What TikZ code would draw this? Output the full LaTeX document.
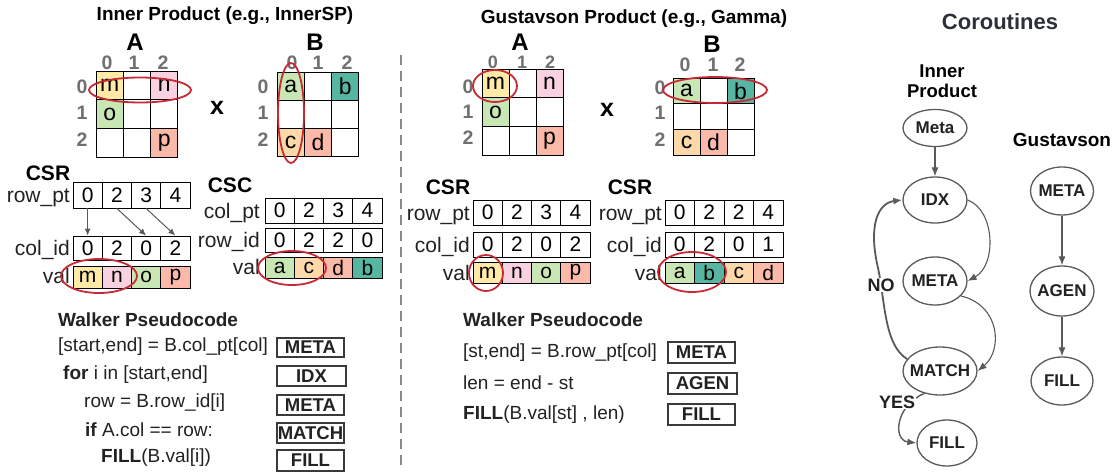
\documentclass[tikz,border=0pt]{standalone}
\usepackage{fontspec}
\setmainfont{Liberation Sans}
\usetikzlibrary{shapes.geometric, arrows.meta}

\definecolor{cYel}{HTML}{FFEAA7}
\definecolor{cPink}{HTML}{F9D2E1}
\definecolor{cGrn}{HTML}{C9E7B5}
\definecolor{cSal}{HTML}{FBB9A9}
\definecolor{cOra}{HTML}{FDD8A8}
\definecolor{cTeal}{HTML}{56B6A2}
\definecolor{hlred}{HTML}{C72A35}
\definecolor{idxgray}{HTML}{707070}
\definecolor{congray}{HTML}{5A5A5A}
\definecolor{boxgray}{HTML}{3A3A3A}
\definecolor{codeblack}{HTML}{222222}
\definecolor{divgray}{HTML}{8A8A8A}
\definecolor{slate}{HTML}{2B303A}

\newcommand\fsz[1]{\fontsize{#1}{#1}\selectfont}

% sparse matrix drawn as a grid of cells: name, x0, y0, cell w, cell h, list r/c/text/fill
\newcommand\spmat[6]{%
  \foreach \r/\c/\t/\f in {#6}{%
    \node[mcell, fill=\f, minimum width=#4pt, minimum height=#5pt] (#1-\r-\c)
      at ({#2+(\c+0.5)*#4}, {#3+(\r+0.5)*#5}) {\t};
  }}
% one row of a compressed array: name, x0, y centre, cell w, cell h, list text/fill
\newcommand\sparr[6]{%
  \foreach \t/\f [count=\i from 0] in {#6}{%
    \node[acell, fill=\f, minimum width=#4pt, minimum height=#5pt] (#1-\i)
      at ({#2+(\i+0.5)*#4}, #3) {\t};
  }}

\tikzset{
  mcell/.style={draw=black, line width=0.9pt, inner sep=0pt, font=\fsz{23}, text=black},
  acell/.style={draw=black, line width=0.9pt, inner sep=0pt, font=\fsz{21}, text=black},
  rowlab/.style={anchor=base east, inner sep=0pt, font=\fsz{21}, text=codeblack},
  idx/.style={font=\bfseries\fsz{19.5}, text=idxgray, inner sep=0pt},
  mlab/.style={font=\bfseries\fsz{24}, inner sep=0pt},
  ttl/.style={font=\bfseries\fsz{19}, inner sep=0pt, text=black},
  fmt/.style={font=\bfseries\fsz{21}, inner sep=0pt, text=black},
  hl/.style={draw=hlred, line width=1.8pt},
  ptr/.style={draw=congray, line width=1pt, -{Latex[length=7pt,width=6pt]}},
  code/.style={anchor=west, inner sep=0pt, font=\fsz{19}, text=codeblack},
  pbox/.style={draw=boxgray, line width=1.2pt, inner sep=0pt, font=\bfseries\fsz{18.5}, text=codeblack},
  co/.style={ellipse, draw=congray, line width=1.3pt, inner sep=0pt},
  colab/.style={font=\bfseries\fsz{17}, text=codeblack, inner sep=0pt},
  con/.style={draw=congray, line width=1.1pt, -{Latex[length=9pt,width=7pt]}},
}

\begin{document}
\begin{tikzpicture}[x=1pt, y=-1pt]
\useasboundingbox[fill=white] (0,0) rectangle (1117,474);

% ---------------- Inner product ----------------
\node[ttl] (ttlInner) at (225,16) {Inner Product (e.g., InnerSP)};
\node[mlab] (labLA) at (135,42) {A};
\node[mlab] (labLB) at (315,42) {B};
\foreach \v/\x in {0/107,1/134,2/163} \node[idx] (lac\v) at (\x,63) {\v};
\foreach \v/\y in {0/87,1/113,2/140} \node[idx] (lar\v) at (82,\y) {\v};
\foreach \v/\x in {0/292,1/318,2/347} \node[idx] (lbc\v) at (\x,63) {\v};
\foreach \v/\y in {0/87,1/113,2/140} \node[idx] (lbr\v) at (263,\y) {\v};

\spmat{LA}{96}{71}{27.3}{28.7}{0/0/m/cYel, 0/1//white, 0/2/n/cPink,
  1/0/o/cGrn, 1/1//white, 1/2//white, 2/0//white, 2/1//white, 2/2/p/cSal}
\spmat{LB}{277}{72}{27.3}{28.3}{0/0/a/cGrn, 0/1//white, 0/2/b/cTeal,
  1/0//white, 1/1//white, 1/2//white, 2/0/c/cOra, 2/1/d/cSal, 2/2//white}
\node[font=\bfseries\fsz{25}, inner sep=0pt] (timesL) at (217,108) {x};

\draw[hl] (140,90) ellipse [x radius=51pt, y radius=12.5pt];
\draw[hl] (291,113) ellipse [x radius=13pt, y radius=50pt];

% CSR of A
\node[fmt] (csrL) at (48,173) {CSR};
\sparr{Lrp}{73}{195}{29.25}{26}{0/white,2/white,3/white,4/white}
\sparr{Lci}{73}{248}{29.25}{24}{0/white,2/white,0/white,2/white}
\sparr{Lval}{73}{277}{29.25}{22}{m/cYel,n/cPink,o/cGrn,p/cSal}
\node[rowlab] (Lrplab) at (70,202.5) {row\_pt};
\node[rowlab] (Lcilab) at (70,255.5) {col\_id};
\node[rowlab] (Lvallab) at (70,283) {val};
\draw[ptr] (Lrp-0.south) -- (Lci-0.north);
\draw[ptr] (Lrp-1.south) -- (Lci-2.north);
\draw[ptr] (Lrp-2.south) -- (Lci-3.north);
\draw[hl] (99,276) ellipse [x radius=38pt, y radius=17pt];

% CSC of B
\node[fmt] (cscL) at (230,185) {CSC};
\sparr{Lcp}{265}{210.5}{29.25}{25}{0/white,2/white,3/white,4/white}
\sparr{Lri}{265}{240}{29.25}{24}{0/white,2/white,2/white,0/white}
\sparr{Lcv}{265}{267.5}{29.25}{21}{a/cGrn,c/cOra,d/cSal,b/cTeal}
\node[rowlab] (Lcplab) at (260,218) {col\_pt};
\node[rowlab] (Lrilab) at (260,247.5) {row\_id};
\node[rowlab] (Lcvlab) at (260,274) {val};
\draw[hl] (292,268) ellipse [x radius=34pt, y radius=17pt];

% walker pseudocode (inner product)
\node[code, font=\bfseries\fsz{19}] (wpL) at (58,320) {Walker Pseudocode};
\node[code] (cL1) at (58,347) {[start,end] = B.col\_pt[col]};
\node[code] (cL2) at (63,375) {\textbf{for} i in [start,end]};
\node[code] (cL3) at (84,403) {row = B.row\_id[i]};
\node[code] (cL4) at (85,430) {\textbf{if} A.col == row:};
\node[code] (cL5) at (101,458) {\textbf{FILL}(B.val[i])};
\node[pbox, minimum width=67pt, minimum height=19pt] (bL1) at (310.5,347.5) {META};
\node[pbox, minimum width=69pt, minimum height=20pt] (bL2) at (311.5,376) {IDX};
\node[pbox, minimum width=67pt, minimum height=20pt] (bL3) at (310.5,405) {META};
\node[pbox, minimum width=67pt, minimum height=20pt] (bL4) at (310.5,433) {MATCH};
\node[pbox, minimum width=67pt, minimum height=21pt] (bL5) at (310.5,460.5) {FILL};

% divider
\draw[draw=divgray, line width=1.8pt, dash pattern=on 10pt off 6pt] (401,55) -- (401,467);

% ---------------- Gustavson product ----------------
\node[ttl] (ttlGust) at (634,19) {Gustavson Product (e.g., Gamma)};
\node[mlab] (labMA) at (520,42.5) {A};
\node[mlab] (labMB) at (712,44) {B};
\foreach \v/\x in {0/493,1/522,2/550} \node[idx, font=\bfseries\fsz{18}] (mac\v) at (\x,62) {\v};
\foreach \v/\y in {0/87,1/112,2/138} \node[idx] (mar\v) at (468,\y) {\v};
\foreach \v/\x in {0/685,1/713,2/740} \node[idx] (mbc\v) at (\x,65) {\v};
\foreach \v/\y in {0/88,1/113,2/140} \node[idx] (mbr\v) at (660,\y) {\v};

\spmat{MA}{482}{69}{27}{28.7}{0/0/m/cYel, 0/1//white, 0/2/n/cPink,
  1/0/o/cGrn, 1/1//white, 1/2//white, 2/0//white, 2/1//white, 2/2/p/cSal}
\spmat{MB}{673}{78}{27}{25.7}{0/0/a/cGrn, 0/1//white, 0/2/b/cTeal,
  1/0//white, 1/1//white, 1/2//white, 2/0/c/cOra, 2/1/d/cSal, 2/2//white}
\node[font=\bfseries\fsz{25}, inner sep=0pt] (timesM) at (607,110) {x};

\draw[hl] (495,86) ellipse [x radius=22pt, y radius=16pt];
\draw[hl] (715,90) ellipse [x radius=52pt, y radius=13pt];

% CSR of A
\node[fmt] (csrM1) at (448,187) {CSR};
\sparr{Mrp}{473}{212.5}{29.25}{25}{0/white,2/white,3/white,4/white}
\sparr{Mci}{473}{244.5}{29.25}{25}{0/white,2/white,0/white,2/white}
\sparr{Mval}{473}{272.5}{29.25}{21}{m/cYel,n/cPink,o/cGrn,p/cSal}
\node[rowlab] (Mrplab) at (470,220) {row\_pt};
\node[rowlab] (Mcilab) at (470,252) {col\_id};
\node[rowlab] (Mvallab) at (470,280) {val};
\draw[hl] (486,273) ellipse [x radius=17pt, y radius=18pt];

% CSR of B
\node[fmt] (csrM2) at (630,187) {CSR};
\sparr{Nrp}{665}{212.5}{29.5}{25}{0/white,2/white,2/white,4/white}
\sparr{Nci}{665}{244.5}{29.5}{25}{0/white,2/white,0/white,1/white}
\sparr{Nval}{665}{272.5}{29.5}{21}{a/cGrn,b/cTeal,c/cOra,d/cSal}
\node[rowlab] (Nrplab) at (662,220) {row\_pt};
\node[rowlab] (Ncilab) at (662,252) {col\_id};
\node[rowlab] (Nvallab) at (662,280) {val};
\draw[hl] (692,272) ellipse [x radius=34pt, y radius=20pt];

% walker pseudocode (Gustavson)
\node[code, font=\bfseries\fsz{19}] (wpM) at (463,320) {Walker Pseudocode};
\node[code] (cM1) at (463,353) {[st,end] = B.row\_pt[col]};
\node[code] (cM2) at (463,383) {len = end - st};
\node[code] (cM3) at (463,415) {\textbf{FILL}(B.val[st] , len)};
\node[pbox, minimum width=67pt, minimum height=21pt] (bM1) at (701.5,352.5) {META};
\node[pbox, minimum width=69pt, minimum height=21pt] (bM2) at (702.5,383.5) {AGEN};
\node[pbox, minimum width=67pt, minimum height=21pt] (bM3) at (701.5,414.5) {FILL};

% ---------------- Coroutines ----------------
\node[font=\bfseries\fsz{22}, text=slate, inner sep=0pt] (ttlCo) at (1000,22) {Coroutines};
\node[font=\bfseries\fsz{18.5}, align=center, inner sep=0pt, text=black] (ttlIP) at (942,81)
  {Inner\\[2pt]Product};
\node[font=\bfseries\fsz{19}, inner sep=0pt, text=black] (ttlGv) at (1062,140) {Gustavson};

\node[co, minimum width=64pt, minimum height=37pt, label={[colab]center:Meta}] (imeta) at (935,128) {};
\node[co, minimum width=64pt, minimum height=46pt, label={[colab]center:IDX}] (iidx) at (935,200) {};
\node[co, minimum width=64pt, minimum height=48pt, label={[colab]center:META}] (imeta2) at (935,281) {};
\node[co, minimum width=74pt, minimum height=48pt, label={[colab]center:MATCH}] (imatch) at (940,371) {};
\node[co, minimum width=60pt, minimum height=46pt, label={[colab]center:FILL}] (ifill) at (947,443) {};

\draw[con] (imeta) -- (iidx);
\draw[con] (iidx.east) .. controls (995,210) and (997,265) .. (imeta2.east);
\draw[con] (imeta2.-30) .. controls (1000,305) and (1003,350) .. (imatch.east);
\draw[con, line width=1.8pt] (imatch.160) .. controls (884,345) and (885,300) .. (878,268)
  .. controls (868,225) and (878,203) .. (iidx.west);
\node[colab, font=\bfseries\fsz{18}, fill=white, inner sep=1pt] (noLab) at (881,285) {NO};
\draw[con, line width=1.4pt] (imatch.235) .. controls (896,405) and (892,440) .. (ifill.west);
\node[colab, font=\bfseries\fsz{18}, fill=white, inner sep=1pt] (yesLab) at (897,402) {YES};

\node[co, minimum width=63pt, minimum height=48pt, label={[colab]center:META}] (gmeta) at (1062,191) {};
\node[co, minimum width=64pt, minimum height=50pt, label={[colab]center:AGEN}] (gagen) at (1062,291) {};
\node[co, minimum width=62pt, minimum height=48pt, label={[colab]center:FILL}] (gfill) at (1062,381) {};
\draw[con] (gmeta) -- (gagen);
\draw[con] (gagen) -- (gfill);
\end{tikzpicture}
\end{document}
